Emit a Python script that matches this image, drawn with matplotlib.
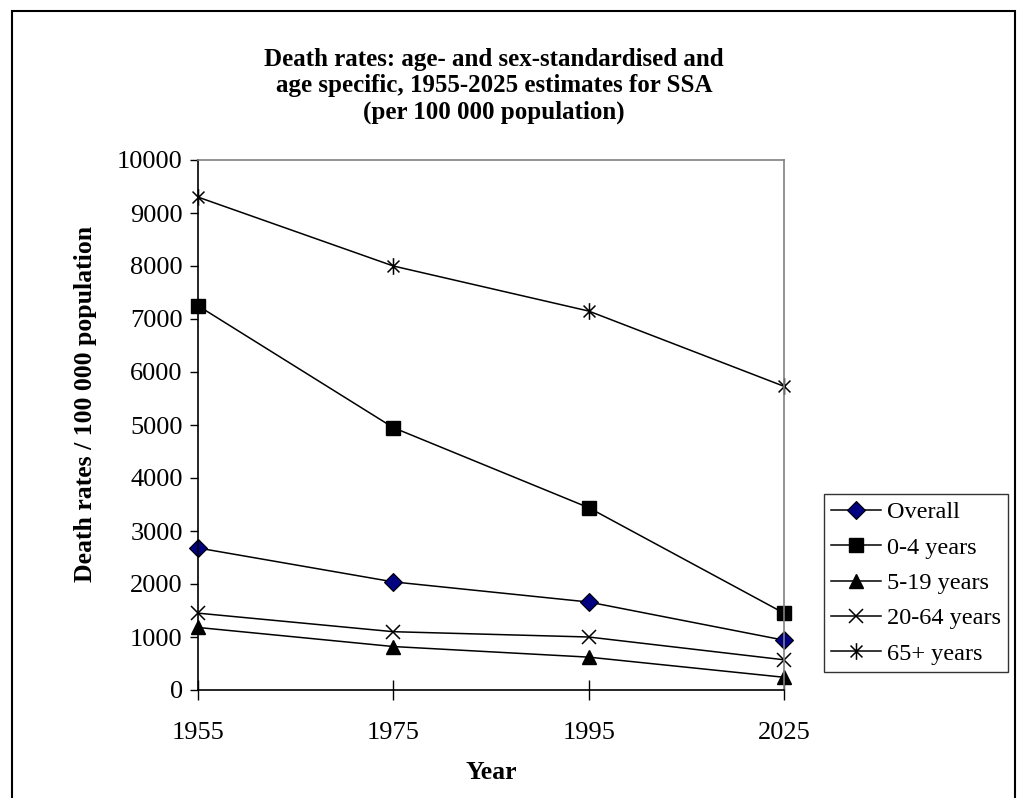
import matplotlib
matplotlib.use("Agg")
import matplotlib.pyplot as plt
from matplotlib.path import Path
from matplotlib.patches import Rectangle

years = ["1955", "1975", "1995", "2025"]
overall = [2680, 2040, 1660, 940]
age_0_4 = [7250, 4950, 3440, 1450]
age_5_19 = [1180, 820, 620, 240]
age_20_64 = [1450, 1100, 1000, 570]
age_65_plus = [9300, 8000, 7150, 5730]

plt.rcParams['font.family'] = ['Liberation Serif', 'DejaVu Serif']

# asterisk: an x with a vertical bar through it
star = Path([(-1, -1), (1, 1), (-1, 1), (1, -1), (0, -1.4), (0, 1.4)],
            [Path.MOVETO, Path.LINETO, Path.MOVETO, Path.LINETO, Path.MOVETO, Path.LINETO])

fig = plt.figure(figsize=(10.22, 7.98), dpi=100)
# outer chart frame (bottom runs off the page)
fig.patches.append(Rectangle((12 / 1022, -0.1), 1003 / 1022, 1.1 - 11 / 798,
                             transform=fig.transFigure, fill=False,
                             edgecolor='black', linewidth=1.5))
ax = fig.add_axes([198 / 1022, 1 - 690 / 798, 586 / 1022, 530 / 798])

x = range(len(years))
lw = 1.1
common = dict(color='black', lw=lw, clip_on=False)
ax.plot(x, overall, marker='D', ms=9, markerfacecolor='#000080',
        markeredgecolor='black', markeredgewidth=0.8, label='Overall', **common)
ax.plot(x, age_0_4, marker='s', ms=10, markerfacecolor='black',
        markeredgecolor='black', label='0-4 years', **common)
ax.plot(x, age_5_19, marker='^', ms=10, markerfacecolor='black',
        markeredgecolor='black', label='5-19 years', **common)
ax.plot(x, age_20_64, marker='x', ms=10, markeredgewidth=1.1,
        label='20-64 years', **common)
ax.plot(x, age_65_plus, marker=star, ms=12, markeredgewidth=1.1,
        label='65+ years', **common)

ax.set_xlim(0, 3)
ax.set_ylim(0, 10000)
ax.set_xticks(list(x))
ax.set_xticklabels(years)
ax.set_yticks(range(0, 10001, 1000))
ax.tick_params(axis='y', direction='out', length=6, width=1, labelsize=19, pad=5)
ax.tick_params(axis='x', direction='inout', length=14, width=1, labelsize=19, pad=16)

for side in ['top', 'right']:
    ax.spines[side].set_color('#808080')
    ax.spines[side].set_linewidth(1.2)
for side in ['left', 'bottom']:
    ax.spines[side].set_color('black')
    ax.spines[side].set_linewidth(1.2)

ax.set_xlabel('Year', fontsize=18.5, fontweight='bold', labelpad=12)
ax.set_ylabel('Death rates / 100 000 population', fontsize=18.5, fontweight='bold')
ax.yaxis.set_label_coords(-0.172, 0.54)

fig.text(494 / 1022, 1 - 86 / 798,
         'Death rates: age- and sex-standardised and\nage specific, 1955-2025 estimates for SSA\n(per 100 000 population)',
         ha='center', va='center', fontsize=18, fontweight='bold', linespacing=1.2)

leg = fig.legend(loc='upper left', bbox_to_anchor=(824 / 1022, 1 - 494 / 798),
                 fontsize=17.5, frameon=True, fancybox=False, handlelength=2.05,
                 borderpad=0.3, labelspacing=0.55, handletextpad=0.25, borderaxespad=0)
leg.get_frame().set_edgecolor('black')
leg.get_frame().set_linewidth(1.0)

fig.savefig('out.png', dpi=100)
